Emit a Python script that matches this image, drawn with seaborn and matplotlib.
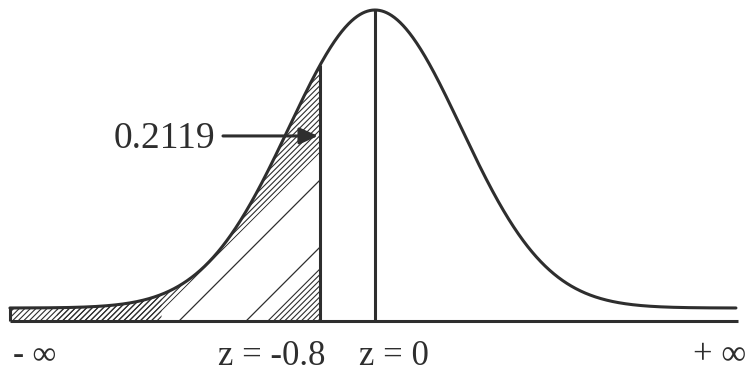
import numpy as np
import pandas as pd
import matplotlib
matplotlib.use("Agg")
import matplotlib.pyplot as plt
import seaborn as sns

# z values marked on the axis and the tail area to the left of the cut
z_cut = -0.8
z_mean = 0.0
tail_area = 0.2119
label_texts = ["- ∞", "z = -0.8", "z = 0", "+ ∞"]

# drawing geometry of the bell curve (in z units / relative height)
spread = 1.25
lift = 0.0436
z_left, z_right = -5.31, 5.25

# hatch layout inside the shaded tail
band_floor_at_cut = 0.564
stripe_levels = [0.473, 0.248]
wedge_top = 0.181
strip_span = (-4.63, -3.1)

ink = "#2e2e2e"

sns.set_theme(style="white")
plt.rcParams["font.family"] = ["Liberation Serif", "DejaVu Serif"]
plt.rcParams["hatch.linewidth"] = 0.8

fig = plt.figure(figsize=(7.46, 3.72), dpi=100)
ax = fig.add_axes([0, 0, 1, 1])
xlim = (-5.4545, 5.3964)
ylim = (-0.1711, 1.0772)
ax.set_xlim(*xlim)
ax.set_ylim(*ylim)
ax.axis("off")

# slope that appears as 45 degrees on screen
sx = 746 / (xlim[1] - xlim[0])
sy = 372 / (ylim[1] - ylim[0])
slope = sx / sy


def height(v):
    return lift + np.exp(-0.5 * (np.asarray(v) / spread) ** 2)


z = np.linspace(z_left, z_right, 1500)
curve = pd.DataFrame({"z": z, "h": height(z)})
sns.lineplot(data=curve, x="z", y="h", ax=ax, color=ink, lw=2.2,
             sort=False, legend=False)

# horizontal axis and the verticals
ax.hlines(0, z_left, z_right + 0.03, color=ink, lw=2.2)
ax.vlines(z_left, 0, lift, color=ink, lw=2.2)
ax.vlines(z_cut, 0, height(z_cut), color=ink, lw=2.2)
ax.vlines(z_mean, 0, height(z_mean), color=ink, lw=2.2)

# dense hatch band along the curve
zz = z[z <= z_cut]
hh = height(zz)
floor = band_floor_at_cut + slope * (zz - z_cut)
ax.fill_between(zz, np.maximum(floor, 0), hh, where=hh > floor,
                interpolate=True, hatch="//////", facecolor="none",
                edgecolor=ink, lw=0)

# dense wedge at the foot of the cut line
z0 = z_cut - wedge_top / slope
zw = np.linspace(z0, z_cut, 50)
ax.fill_between(zw, 0, wedge_top + slope * (zw - z_cut), hatch="//////",
                facecolor="none", edgecolor=ink, lw=0)

# dense strip along the flat left tail
zs = z[(z >= strip_span[0]) & (z <= strip_span[1])]
ax.fill_between(zs, 0, height(zs), hatch="//////", facecolor="none",
                edgecolor=ink, lw=0)

# sparse diagonal strokes in between
for lvl in stripe_levels:
    zstart = z_cut - lvl / slope
    ax.plot([zstart, z_cut], [0, lvl], color=ink, lw=0.9)

# pointer to the shaded area
arrow_y = 0.621
ax.annotate("", xy=(z_cut - 0.03, arrow_y), xytext=(-2.211, arrow_y),
            arrowprops=dict(arrowstyle="-|>,head_length=0.55,head_width=0.25",
                            lw=2.2, color=ink, mutation_scale=20,
                            shrinkA=0, shrinkB=0))
ax.text(-2.327, 0.5805, f"{tail_area:.4f}", ha="right", va="baseline",
        fontsize=27, color=ink)

# labels under the axis
base_y = -0.1477
ax.text(-5.265, base_y + 0.005, label_texts[0], ha="left", va="baseline",
        fontsize=24, color=ink)
ax.text(z_cut + 0.073, base_y, label_texts[1], ha="right", va="baseline",
        fontsize=25, color=ink)
ax.text(z_mean - 0.233, base_y, label_texts[2], ha="left", va="baseline",
        fontsize=25, color=ink)
ax.text(4.625, base_y + 0.005, label_texts[3], ha="left", va="baseline",
        fontsize=25, color=ink)

fig.savefig("out.png", dpi=100)
